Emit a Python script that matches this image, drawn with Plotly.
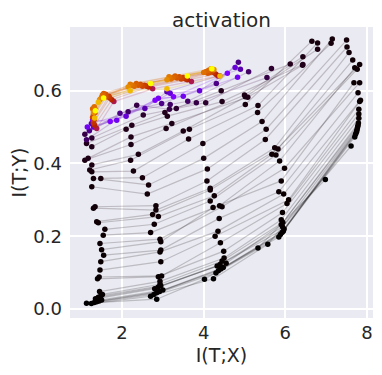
import math
import plotly.graph_objects as go

# epoch of each snapshot (colour), then the five layers' (I(T;X), I(T;Y)) per snapshot
epochs = [0, 1, 2, 3, 4, 5, 6, 7, 8, 9,
          10, 12, 14, 16, 18, 20, 23, 26, 30, 34, 38, 43, 48, 54, 60, 68, 76, 86, 96, 110, 125, 140, 160, 180,
          300, 450, 650, 900, 1200, 1600, 2000, 2500,
          4500, 5200, 5800, 6200, 6500, 6800, 7000, 7200, 7400, 7600, 7800, 8200, 9000, 10000]

layer1_x = [6.98, 7.61, 7.70, 7.72, 7.74, 7.75, 7.76, 7.77, 7.78, 7.79,
            7.80, 7.80, 7.80, 7.82, 7.84, 7.78, 7.68, 7.82, 7.70, 7.76, 7.82, 7.65, 7.56, 7.51, 7.50, 7.15,
            7.12, 6.79, 6.65, 6.79, 6.43, 6.42, 6.43, 6.12,
            5.66, 5.55, 5.10, 4.85, 4.90, 4.77, 4.83, 4.58,
            4.35, 4.30, 4.25, 4.20, 4.15, 4.22, 4.10, 4.05, 4.12, 4.00, 4.18, 4.25, 4.40, 4.20]
layer1_y = [0.356, 0.448, 0.473, 0.480, 0.486, 0.490, 0.495, 0.500, 0.505, 0.511,
            0.524, 0.536, 0.549, 0.570, 0.574, 0.594, 0.622, 0.622, 0.663, 0.659, 0.672, 0.684, 0.705, 0.720,
            0.739, 0.742, 0.730, 0.731, 0.736, 0.714, 0.693, 0.670, 0.672, 0.673,
            0.661, 0.636, 0.652, 0.678, 0.659, 0.664, 0.637, 0.648,
            0.640, 0.645, 0.650, 0.652, 0.650, 0.655, 0.648, 0.652, 0.656, 0.650, 0.660, 0.658, 0.640, 0.660]

layer2_x = [5.33, 5.57, 5.84, 5.88, 5.92, 5.95, 5.97, 5.93, 5.90, 5.94,
            5.90, 5.93, 6.04, 6.08, 5.96, 5.84, 5.90, 5.98, 5.86, 5.77, 5.67, 5.82, 5.74, 5.51, 5.53, 5.43,
            5.32, 5.33, 5.02, 5.02, 5.00, 5.08, 4.45, 4.43,
            4.05, 3.82, 3.61, 4.31, 4.39, 3.90, 3.50, 3.26,
            3.70, 3.60, 3.55, 3.50, 3.45, 3.40, 3.35, 3.30, 3.25, 3.20, 3.15, 3.10, 3.10, 3.60]
layer2_y = [0.168, 0.178, 0.198, 0.205, 0.210, 0.214, 0.220, 0.226, 0.232, 0.238,
            0.245, 0.265, 0.290, 0.300, 0.316, 0.322, 0.352, 0.387, 0.407, 0.423, 0.425, 0.440, 0.443, 0.466,
            0.494, 0.515, 0.540, 0.559, 0.562, 0.583, 0.588, 0.582, 0.570, 0.600,
            0.567, 0.567, 0.571, 0.620, 0.641, 0.600, 0.585, 0.583,
            0.625, 0.630, 0.632, 0.636, 0.632, 0.638, 0.635, 0.640, 0.636, 0.632, 0.638, 0.630, 0.605, 0.640]

layer3_x = [4.02, 4.24, 4.30, 4.36, 4.42, 4.48, 4.33, 4.40, 4.55, 4.45,
            4.50, 4.49, 4.41, 4.28, 4.35, 4.38, 4.23, 4.45, 4.39, 4.16, 4.26, 4.16, 4.16, 4.08, 4.09, 4.00,
            3.98, 3.63, 3.65, 3.50, 3.08, 3.22, 3.11, 3.05,
            3.33, 3.16, 3.18, 2.97, 3.10, 3.18, 2.89, 2.81,
            2.75, 2.65, 2.60, 2.55, 2.50, 2.45, 2.40, 2.35, 2.30, 2.25, 2.20, 2.15, 2.20, 2.70]
layer3_y = [0.082, 0.083, 0.099, 0.105, 0.110, 0.114, 0.118, 0.122, 0.126, 0.132,
            0.140, 0.159, 0.182, 0.200, 0.214, 0.249, 0.279, 0.281, 0.284, 0.297, 0.311, 0.327, 0.332, 0.352,
            0.385, 0.414, 0.455, 0.467, 0.494, 0.489, 0.496, 0.510, 0.530, 0.540,
            0.551, 0.549, 0.562, 0.565, 0.597, 0.593, 0.579, 0.574,
            0.605, 0.610, 0.612, 0.615, 0.612, 0.618, 0.615, 0.620, 0.612, 0.615, 0.618, 0.610, 0.600, 0.620]

layer4_x = [2.85, 2.70, 2.78, 2.85, 2.92, 3.00, 2.80, 2.88, 2.95, 2.93,
            2.93, 2.89, 2.97, 2.95, 2.93, 2.95, 2.95, 2.93, 2.70, 2.79, 2.89, 2.75, 2.83, 2.83, 2.62, 2.65,
            2.50, 2.28, 2.21, 2.40, 2.22, 2.22, 2.10, 2.24,
            2.52, 2.36, 2.15, 1.95, 2.56, 2.10, 1.87, 1.71,
            1.80, 1.75, 1.70, 1.68, 1.62, 1.60, 1.58, 1.55, 1.52, 1.50, 1.48, 1.45, 1.42, 1.55]
layer4_y = [0.027, 0.035, 0.040, 0.045, 0.048, 0.052, 0.056, 0.060, 0.064, 0.068,
            0.076, 0.089, 0.091, 0.130, 0.157, 0.162, 0.185, 0.192, 0.210, 0.233, 0.254, 0.260, 0.272, 0.284,
            0.316, 0.341, 0.361, 0.379, 0.409, 0.425, 0.452, 0.473, 0.494, 0.505,
            0.533, 0.560, 0.542, 0.538, 0.551, 0.530, 0.519, 0.515,
            0.570, 0.575, 0.580, 0.585, 0.583, 0.590, 0.585, 0.592, 0.588, 0.582, 0.578, 0.575, 0.568, 0.580]

layer5_x = [1.13, 1.25, 1.32, 1.38, 1.44, 1.50, 1.35, 1.42, 1.48, 1.52,
            1.45, 1.40, 1.44, 1.46, 1.48, 1.55, 1.50, 1.46, 1.54, 1.58, 1.42, 1.38, 1.30, 1.34, 1.26, 1.30,
            1.48, 1.26, 1.21, 1.26, 1.09, 1.17, 1.26, 1.13,
            1.26, 1.09, 1.13, 1.20, 1.25, 1.30, 1.15, 1.28,
            1.38, 1.33, 1.30, 1.32, 1.28, 1.30, 1.34, 1.30, 1.28, 1.32, 1.35, 1.30, 1.33, 1.35]
layer5_y = [0.016, 0.015, 0.018, 0.020, 0.022, 0.025, 0.028, 0.032, 0.036, 0.040,
            0.048, 0.083, 0.088, 0.107, 0.130, 0.148, 0.163, 0.180, 0.203, 0.219, 0.237, 0.240, 0.277, 0.281,
            0.336, 0.359, 0.359, 0.377, 0.382, 0.396, 0.409, 0.414, 0.446, 0.455,
            0.470, 0.480, 0.465, 0.490, 0.510, 0.500, 0.500, 0.520,
            0.496, 0.505, 0.512, 0.520, 0.527, 0.535, 0.540, 0.545, 0.550, 0.556, 0.548, 0.540, 0.525, 0.545]

layers_x = [layer1_x, layer2_x, layer3_x, layer4_x, layer5_x]
layers_y = [layer1_y, layer2_y, layer3_y, layer4_y, layer5_y]


def gnuplot(t):
    # matplotlib "gnuplot" colormap
    r = math.sqrt(t)
    g = t ** 3
    b = min(1.0, max(0.0, math.sin(2 * math.pi * t)))
    return int(r * 255), int(g * 255), int(b * 255)


max_epoch = max(epochs)
fig = go.Figure()

# one faint line per epoch through the layers
for i, ep in enumerate(epochs):
    r, g, b = gnuplot(ep / max_epoch)
    fig.add_trace(go.Scatter(
        x=[lx[i] for lx in layers_x],
        y=[ly[i] for ly in layers_y],
        mode="lines",
        line=dict(color=f"rgba({r},{g},{b},0.2)", width=1.2),
        hoverinfo="skip",
        showlegend=False,
    ))

xs, ys, cols = [], [], []
for i, ep in enumerate(epochs):
    r, g, b = gnuplot(ep / max_epoch)
    for lx, ly in zip(layers_x, layers_y):
        xs.append(lx[i])
        ys.append(ly[i])
        cols.append(f"rgb({r},{g},{b})")

fig.add_trace(go.Scatter(
    x=xs, y=ys, mode="markers",
    marker=dict(color=cols, size=5.5, line=dict(width=0)),
    showlegend=False,
))

axis_common = dict(
    showgrid=True, gridcolor="white", gridwidth=1.5,
    zeroline=False, showline=False, ticks="", automargin=False,
    tickfont=dict(size=18, color="#262626"),
)

# the page adds an 8px body margin, so the figure is 8px smaller than the window
fig.update_layout(
    width=374, height=367,
    margin=dict(l=62, r=9, t=19, b=57),
    paper_bgcolor="white",
    plot_bgcolor="#EAEAF2",
    font=dict(family="DejaVu Sans", color="#262626"),
    title=dict(text="activation", x=0.5, xanchor="center", xref="paper",
               y=0.9485, yanchor="bottom", yref="container", automargin=False,
               pad=dict(t=0, b=0),
               font=dict(size=20, color="#262626")),
    xaxis=dict(range=[0.726, 8.147], tickvals=[2, 4, 6, 8], ticklabelstandoff=2,
               title=dict(text="I(T;X)", font=dict(size=19), standoff=6), **axis_common),
    yaxis=dict(range=[-0.0247, 0.775], tickvals=[0.0, 0.2, 0.4, 0.6],
               ticktext=["0.0", "0.2", "0.4", "0.6"], ticklabelstandoff=7,
               title=dict(text="I(T;Y)", font=dict(size=19), standoff=8), **axis_common),
)

fig.write_html("out.html")
